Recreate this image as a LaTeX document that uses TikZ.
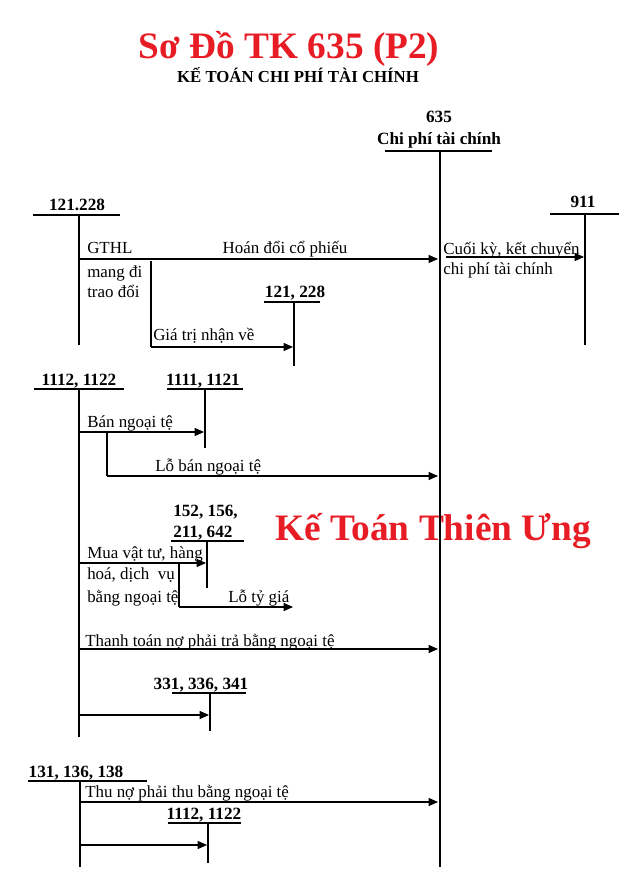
\documentclass[tikz,border=0pt]{standalone}
\usepackage{fontspec}
\setmainfont{Liberation Serif}
\usetikzlibrary{arrows.meta}
\definecolor{titlered}{RGB}{232,28,36}
\begin{document}
\begin{tikzpicture}[x=0.75pt,y=-0.75pt,
  txt/.style={inner sep=0pt,anchor=base west,font=\fontsize{12.7}{15}\selectfont},
  acc/.style={inner sep=0pt,anchor=base,font=\fontsize{12.9}{15}\selectfont\bfseries},
  accw/.style={inner sep=0pt,anchor=base west,font=\fontsize{12.9}{15}\selectfont\bfseries},
  big/.style={inner sep=0pt,anchor=base,text=titlered,font=\fontsize{28}{30}\selectfont\bfseries},
  ln/.style={line width=0.8pt},
  uline/.style={line width=1.1pt},
  mainln/.style={line width=1.4pt},
  arr/.style={line width=0.8pt,-{Triangle[length=7pt,width=6pt]}}]
\useasboundingbox (0,0) rectangle (630,884);
% titles
\node[big] (title) at (289,59) {Sơ Đồ TK 635 (P2)};
\node[inner sep=0pt,anchor=base,font=\fontsize{12.6}{14}\selectfont\bfseries] (sub) at (298,83) {KẾ TOÁN CHI PHÍ TÀI CHÍNH};
\node[big] (brand) at (433,540) {Kế Toán Thiên Ưng};
% main account 635
\node[acc] (n635) at (439,123) {635};
\node[acc] (n635name) at (439,145) {Chi phí tài chính};
\coordinate (m-ul1) at (385,151); \coordinate (m-ul2) at (492,151);
\coordinate (m-top) at (440,151); \coordinate (m-bot) at (440,867);
\draw[uline] (m-ul1) -- (m-ul2);
\draw[mainln] (m-top) -- (m-bot);
% 121.228
\node[acc] (a121) at (77,211) {121.228};
\coordinate (a121-ul1) at (33,215); \coordinate (a121-ul2) at (120,215);
\coordinate (a121-top) at (79,215); \coordinate (a121-bot) at (79,345);
\draw[uline] (a121-ul1) -- (a121-ul2);
\draw[ln] (a121-top) -- (a121-bot);
% 911
\node[acc] (a911) at (583,208) {911};
\coordinate (a911-ul1) at (550,214); \coordinate (a911-ul2) at (619,214);
\coordinate (a911-top) at (585,214); \coordinate (a911-bot) at (585,345);
\draw[uline] (a911-ul1) -- (a911-ul2);
\draw[ln] (a911-top) -- (a911-bot);
% hoan doi
\coordinate (hd1) at (79,259); \coordinate (hd2) at (438,259);
\draw[arr] (hd1) -- (hd2);
\node[inner sep=0pt,anchor=base,font=\fontsize{12.7}{15}\selectfont] (hdlab) at (285,253) {Hoán đổi cổ phiếu};
\node[txt] (gthl1) at (87,253) {GTHL};
\node[txt] (gthl2) at (87,277) {mang đi};
\node[txt] (gthl3) at (87,297) {trao đổi};
% 121, 228
\node[acc] (b121) at (295,297) {121, 228};
\coordinate (b121-ul1) at (264,302); \coordinate (b121-ul2) at (320,302);
\coordinate (b121-top) at (294,302); \coordinate (b121-bot) at (294,366);
\draw[uline] (b121-ul1) -- (b121-ul2);
\draw[ln] (b121-top) -- (b121-bot);
\coordinate (gt0) at (151,261); \coordinate (gt1) at (151,347); \coordinate (gt2) at (293,347);
\draw[ln] (gt0) -- (gt1);
\draw[arr] (gt1) -- (gt2);
\node[txt] (gtlab) at (153,340) {Giá trị nhận về};
% cuoi ky
\node[txt] (ck1) at (443,254) {Cuối kỳ, kết chuyển};
\node[txt] (ck2) at (443,274) {chi phí tài chính};
\coordinate (ck-a) at (446,257); \coordinate (ck-b) at (584,257);
\draw[arr] (ck-a) -- (ck-b);
% 1112, 1122
\node[acc] (c1112) at (79,385) {1112, 1122};
\coordinate (c1112-ul1) at (34,389); \coordinate (c1112-ul2) at (124,389);
\coordinate (c1112-top) at (79,389); \coordinate (c1112-bot) at (79,737);
\draw[uline] (c1112-ul1) -- (c1112-ul2);
\draw[ln] (c1112-top) -- (c1112-bot);
% 1111, 1121
\node[acc] (d1111) at (203,385) {1111, 1121};
\coordinate (d1111-ul1) at (167,389); \coordinate (d1111-ul2) at (243,389);
\coordinate (d1111-top) at (205,389); \coordinate (d1111-bot) at (205,448);
\draw[uline] (d1111-ul1) -- (d1111-ul2);
\draw[ln] (d1111-top) -- (d1111-bot);
\coordinate (bn1) at (79,432); \coordinate (bn2) at (204,432);
\draw[arr] (bn1) -- (bn2);
\node[txt] (bnlab) at (87,427) {Bán ngoại tệ};
\coordinate (lb0) at (107,432); \coordinate (lb1) at (107,476); \coordinate (lb2) at (438,476);
\draw[ln] (lb0) -- (lb1);
\draw[arr] (lb1) -- (lb2);
\node[txt] (lblab) at (155,471) {Lỗ bán ngoại tệ};
% 152, 156, 211, 642
\node[accw] (e152a) at (173,516) {152, 156,};
\node[accw] (e152b) at (173,537) {211, 642};
\coordinate (e152-ul1) at (171,541); \coordinate (e152-ul2) at (244,541);
\coordinate (e152-top) at (207,541); \coordinate (e152-bot) at (207,588);
\draw[uline] (e152-ul1) -- (e152-ul2);
\draw[ln] (e152-top) -- (e152-bot);
\node[txt] (mua1) at (87,558) {Mua vật tư, hàng};
\node[txt] (mua2) at (87,579) {hoá, dịch\ \ vụ};
\node[txt] (mua3) at (87,602) {bằng ngoại tệ};
\coordinate (mua-a) at (79,563); \coordinate (mua-b) at (206,563);
\draw[arr] (mua-a) -- (mua-b);
\coordinate (ltg0) at (179,563); \coordinate (ltg1) at (179,607); \coordinate (ltg2) at (293,607);
\draw[ln] (ltg0) -- (ltg1);
\draw[arr] (ltg1) -- (ltg2);
\node[txt] (ltglab) at (228,602) {Lỗ tỷ giá};
% thanh toan
\coordinate (tt1) at (79,649); \coordinate (tt2) at (438,649);
\draw[arr] (tt1) -- (tt2);
\node[txt] (ttlab) at (85,646) {Thanh toán nợ phải trả bằng ngoại tệ};
% 331, 336, 341
\node[acc] (f331) at (201,689) {331, 336, 341};
\coordinate (f331-ul1) at (172,693); \coordinate (f331-ul2) at (246,693);
\coordinate (f331-top) at (210,693); \coordinate (f331-bot) at (210,731);
\draw[uline] (f331-ul1) -- (f331-ul2);
\draw[ln] (f331-top) -- (f331-bot);
\coordinate (f-a) at (79,715); \coordinate (f-b) at (209,715);
\draw[arr] (f-a) -- (f-b);
% 131, 136, 138
\node[acc] (g131) at (76,777) {131, 136, 138};
\coordinate (g131-ul1) at (28,781); \coordinate (g131-ul2) at (147,781);
\coordinate (g131-top) at (80,781); \coordinate (g131-bot) at (80,867);
\draw[uline] (g131-ul1) -- (g131-ul2);
\draw[ln] (g131-top) -- (g131-bot);
\coordinate (thu1) at (80,802); \coordinate (thu2) at (438,802);
\draw[arr] (thu1) -- (thu2);
\node[txt] (thulab) at (85,797) {Thu nợ phải thu bằng ngoại tệ};
% 1112, 1122 (lower)
\node[acc] (h1112) at (204,819) {1112, 1122};
\coordinate (h1112-ul1) at (168,823); \coordinate (h1112-ul2) at (241,823);
\coordinate (h1112-top) at (208,823); \coordinate (h1112-bot) at (208,863);
\draw[uline] (h1112-ul1) -- (h1112-ul2);
\draw[ln] (h1112-top) -- (h1112-bot);
\coordinate (h-a) at (80,845); \coordinate (h-b) at (207,845);
\draw[arr] (h-a) -- (h-b);
\end{tikzpicture}
\end{document}
